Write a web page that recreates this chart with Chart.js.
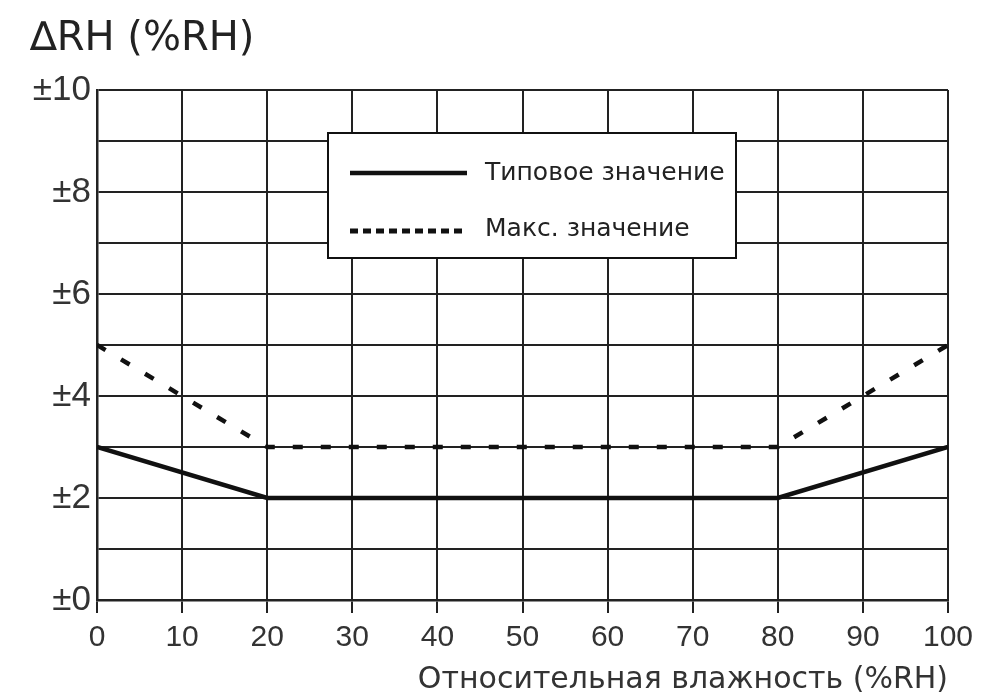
<!DOCTYPE html>
<html>
<head>
<meta charset="utf-8">
<script src="https://cdn.jsdelivr.net/npm/chart.js@4"></script>
<style>
    body { margin: 0; background: #fff; }
</style>
</head>
<body>
<canvas id="rhChart" width="981" height="698"></canvas>
<script>
// data
const humidity = [0, 20, 80, 100];
const typical = [3, 2, 2, 3];
const maximum = [5, 3, 3, 5];
const legendLabels = ["Типовое значение", "Макс. значение"];
const chartTitle = "\u2206RH (%RH)";
const xTitle = "Относительная влажность (%RH)";

const toPoints = (ys) => humidity.map((x, i) => ({ x: x, y: ys[i] }));

// legend box drawn inside the plot
const boxLegend = {
    id: "boxLegend",
    afterDatasetsDraw(chart) {
        const ctx = chart.ctx;
        const a = chart.chartArea;
        const left = a.left + 231, top = a.top + 43;
        const w = 408, h = 125;
        ctx.save();
        ctx.fillStyle = "#fff";
        ctx.fillRect(left, top, w, h);
        ctx.strokeStyle = "#111";
        ctx.lineWidth = 2;
        ctx.strokeRect(left, top, w, h);

        ctx.lineWidth = 4.5;
        ctx.beginPath();
        ctx.moveTo(left + 22, top + 40);
        ctx.lineTo(left + 139, top + 40);
        ctx.stroke();

        ctx.lineWidth = 5;
        ctx.setLineDash([8, 5]);
        ctx.beginPath();
        ctx.moveTo(left + 22, top + 98);
        ctx.lineTo(left + 139, top + 98);
        ctx.stroke();
        ctx.setLineDash([]);

        ctx.fillStyle = "#222";
        ctx.font = "25px 'DejaVu Sans'";
        ctx.textBaseline = "middle";
        ctx.fillText(legendLabels[0], left + 157, top + 40);
        ctx.fillText(legendLabels[1], left + 157, top + 96);
        ctx.restore();
    },
};

new Chart(document.getElementById("rhChart"), {
    type: "line",
    data: {
        datasets: [
            {
                label: legendLabels[0],
                data: toPoints(typical),
                borderColor: "#111",
                borderWidth: 4.5,
                pointRadius: 0,
                tension: 0,
            },
            {
                label: legendLabels[1],
                data: toPoints(maximum),
                borderColor: "#111",
                borderWidth: 4.5,
                borderDash: [10, 18],
                pointRadius: 0,
                tension: 0,
            },
        ],
    },
    options: {
        responsive: false,
        animation: false,
        layout: { padding: { left: 30, right: 33, top: 0, bottom: 0 } },
        plugins: {
            legend: { display: false },
            tooltip: { enabled: false },
            title: {
                display: true,
                text: chartTitle,
                align: "start",
                color: "#222",
                font: { family: "'DejaVu Sans'", size: 40, weight: "normal" },
                padding: { top: 16, bottom: 26 },
            },
        },
        scales: {
            x: {
                type: "linear",
                min: 0,
                max: 100,
                ticks: {
                    stepSize: 10,
                    color: "#333",
                    padding: 7,
                    maxRotation: 0,
                    font: { family: "'Liberation Sans'", size: 30 },
                },
                grid: { color: "#222", lineWidth: 2, tickLength: 13 },
                border: { color: "#222", width: 2.5 },
                title: {
                    display: true,
                    text: xTitle,
                    align: "end",
                    color: "#333",
                    font: { family: "'DejaVu Sans'", size: 30 },
                    padding: { top: 0, bottom: 0 },
                },
                afterFit(scale) { scale.height = 98; },
            },
            y: {
                min: 0,
                max: 10,
                ticks: {
                    stepSize: 1,
                    color: "#333",
                    padding: 6,
                    font: { family: "'Liberation Sans'", size: 35 },
                    callback: (v) => (v % 2 === 0 ? "\u00b1" + v : ""),
                },
                grid: { color: "#222", lineWidth: 2, tickLength: 0 },
                border: { color: "#222", width: 2.5 },
                afterFit(scale) { scale.width = 67; },
            },
        },
    },
    plugins: [boxLegend],
});
</script>
</body>
</html>
